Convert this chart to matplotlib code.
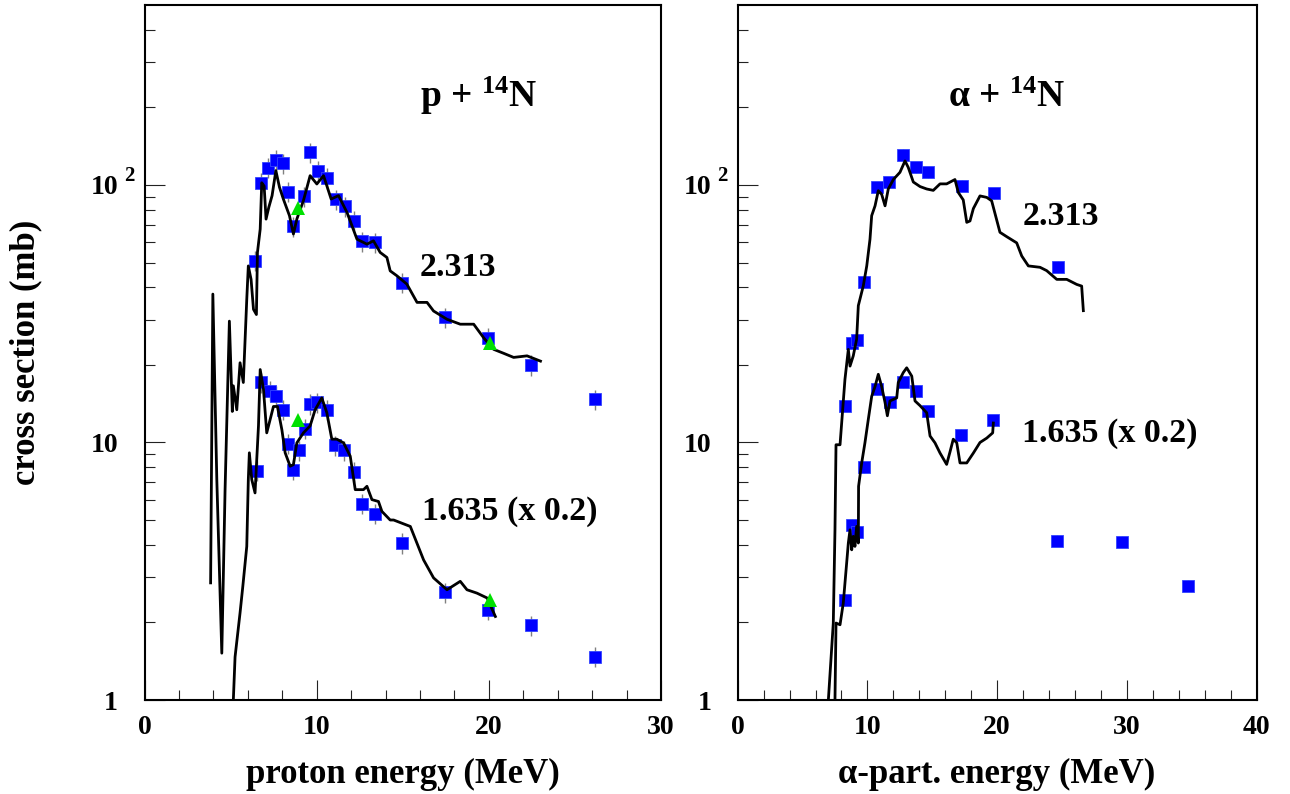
import numpy as np
import matplotlib
matplotlib.use("Agg")
import matplotlib.pyplot as plt
from matplotlib.ticker import FixedLocator, MultipleLocator, NullFormatter

plt.rcParams['font.family'] = ['Liberation Serif', 'DejaVu Serif']
plt.rcParams['font.weight'] = 'bold'
plt.rcParams['mathtext.fontset'] = 'custom'
plt.rcParams['mathtext.rm'] = 'Liberation Serif:bold'
plt.rcParams['mathtext.bf'] = 'Liberation Serif:bold'
plt.rcParams['mathtext.it'] = 'Liberation Serif:italic:bold'

# ---------------- p + 14N ----------------
p_2313_E = [6.42, 6.77, 7.16, 7.63, 8.03, 8.34, 8.65, 9.27, 9.64, 10.05, 10.61, 11.15,
            11.64, 12.14, 12.63, 13.36, 14.94, 17.43, 19.93, 22.45, 26.15]
p_2313_S = [50.8, 102, 116.5, 125, 121.5, 94.2, 69.1, 90.3, 134, 113.7, 106.4, 88,
            82.6, 72.6, 60.4, 59.8, 41.8, 30.6, 25.5, 20.0, 14.7]
p_1635_E = [6.52, 6.77, 7.30, 7.65, 8.07, 8.36, 8.65, 9.00, 9.33, 9.62, 10.01, 10.59,
            11.09, 11.60, 12.14, 12.63, 13.36, 14.95, 17.43, 19.93, 22.45, 26.15]
p_1635_S = [7.78, 17.1, 15.9, 15.2, 13.4, 9.89, 7.85, 9.31, 11.3, 14.1, 14.3, 13.4,
            9.76, 9.31, 7.69, 5.79, 5.28, 4.07, 2.62, 2.24, 1.95, 1.47]
p_err_rel = 0.09
p_green_E = [8.92, 20.06, 8.91, 20.09]
p_green_S = [81.4, 24.4, 12.2, 2.45]

p_curve_2313_E = [3.84, 3.97, 4.20, 4.49, 4.68, 4.93, 5.10, 5.16, 5.36, 5.55, 5.74, 5.94,
                  6.03, 6.19, 6.33, 6.50, 6.56, 6.72, 6.81, 6.95, 7.06, 7.22, 7.41, 7.63,
                  7.84, 8.07, 8.42, 8.65, 8.85, 9.23, 9.62, 10.01, 10.40, 10.84, 11.27,
                  11.76, 12.34, 12.92, 13.30, 13.69, 14.08, 14.27, 14.66, 15.24, 15.83,
                  16.41, 16.79, 17.57, 18.34, 19.12, 19.70, 20.28, 20.86, 21.44, 22.22, 23.0]
p_curve_2313_S = [2.85, 37.7, 7.18, 1.52, 6.56, 29.6, 13.2, 16.6, 13.4, 20.4, 17.1, 36,
                  48.5, 43, 32.9, 31.4, 54.7, 67.4, 102, 99, 73.7, 81.9, 90.9, 113.7,
                  98, 88, 76, 64.5, 73.8, 86.9, 108.7, 100.9, 108.7, 88.2, 90.9,
                  78.3, 61.6, 58.9, 60.7, 54.7, 52.3, 46.4, 44.4, 41.2, 35,
                  35, 32.4, 30.1, 28.8, 28.8, 25.5, 23.0, 22.2, 21.4, 21.7, 20.7]
p_curve_1635_E = [5.16, 5.26, 5.55, 5.71, 5.94, 6.03, 6.09, 6.23, 6.42, 6.62, 6.72, 6.91,
                  7.10, 7.30, 7.49, 7.72, 7.98, 8.17, 8.46, 8.65, 8.85, 9.23, 9.62, 9.91,
                  10.30, 10.59, 10.88, 11.17, 11.56, 11.95, 12.24, 12.72, 12.92, 13.21,
                  13.59, 13.79, 14.27, 14.47, 15.44, 16.21, 16.79, 17.57, 18.34, 18.73,
                  19.31, 19.90, 20.38]
p_curve_1635_S = [1.0, 1.47, 2.18, 2.76, 3.95, 7.18, 9.12, 7.18, 6.37, 11.6, 19.2, 16.1,
                  10.9, 12.3, 13.8, 13.8, 11.2, 9.12, 8.09, 8.2, 9.97, 10.9, 11.6, 13.4,
                  14.9, 13.05, 10.3, 10.3, 9.97, 8.85, 6.56, 6.56, 6.76, 6.0,
                  5.9, 5.4, 5.0, 5.0, 4.72, 3.5, 2.98, 2.68, 2.89, 2.68,
                  2.6, 2.49, 2.11]

# ---------------- alpha + 14N ----------------
a_2313_E = [8.27, 8.79, 9.22, 9.76, 10.76, 11.69, 12.77, 13.75, 14.70, 17.27, 19.76, 24.67]
a_2313_S = [13.9, 24.4, 25.0, 42.1, 98, 102.6, 131, 117, 112, 99.4, 93, 48.1]
a_1635_E = [8.27, 8.79, 9.22, 9.76, 10.76, 11.76, 12.77, 13.75, 14.70, 17.22, 19.71,
            24.62, 29.63, 34.72]
a_1635_S = [2.45, 4.8, 4.48, 8.01, 16.1, 14.4, 17.1, 15.8, 13.2, 10.7, 12.2,
            4.16, 4.12, 2.78]
a_err_rel = 0.05

a_curve_2313_E = [6.99, 7.37, 7.50, 7.58, 7.89, 8.27, 8.53, 8.66, 8.91, 9.17, 9.30, 9.68,
                  9.95, 10.20, 10.33, 10.59, 10.84, 11.10, 11.36, 11.61, 12.00, 12.51,
                  12.90, 13.15, 13.54, 14.06, 14.57, 15.08, 15.60, 16.11, 16.75, 17.01,
                  17.39, 17.66, 17.91, 18.17, 18.68, 19.20, 19.58, 20.22, 20.74, 21.51,
                  21.90, 22.41, 23.31, 23.82, 24.60, 25.37, 26.14, 26.52, 26.65]
a_curve_2313_S = [1.0, 1.99, 4.58, 9.8, 9.8, 17.6, 23, 19.8, 21.7, 25.2, 34, 40.5,
                  48.5, 61.6, 76, 83, 95, 92, 83, 96.5, 105, 112,
                  124, 117, 102.7, 98.6, 96.5, 95.3, 101, 101, 105, 93.5,
                  87.5, 71.6, 72.5, 81, 90.7, 89.5, 86.8, 65.5, 63, 59.6,
                  53, 48.5, 47.9, 46.5, 43, 43, 41.1, 40.5, 32.5]
a_curve_1635_E = [7.50, 7.58, 7.89, 8.14, 8.40, 8.53, 8.66, 8.79, 8.91, 9.04, 9.17, 9.30,
                  9.32, 9.56, 9.81, 10.07, 10.33, 10.59, 10.84, 11.10, 11.36, 11.54,
                  11.74, 12.26, 12.38, 12.77, 13.03, 13.42, 13.67, 14.06, 14.57, 14.83,
                  15.21, 15.60, 16.11, 16.37, 16.62, 16.89, 17.14, 17.66, 18.17, 18.68,
                  19.20, 19.66, 19.71]
a_curve_1635_S = [1.0, 1.99, 1.96, 2.38, 3.4, 4.07, 4.58, 3.83, 4.32, 3.95, 4.72, 4.07,
                  6.76, 8.33, 9.97, 12.3, 15.1, 16.5, 18.4, 16.5, 14.3, 12.7,
                  14.5, 14.9, 17.1, 18.7, 19.5, 18.1, 14.5, 13.9, 13.05, 10.6,
                  9.97, 9.1, 8.22, 9.2, 10.3, 9.97, 8.33, 8.33, 9.1, 10.0,
                  10.4, 10.9, 11.9]

BLUE = '#0000ff'
GREEN = '#00e000'
FS_TICK = 20
FS_LAB = 25
FS_ANN = 24.5
FS_TITLE = 27

fig = plt.figure(figsize=(12.9, 7.94), dpi=100)
W, H = 1290.0, 794.0
axL = fig.add_axes([144.5 / W, 94 / H, (661 - 144.5) / W, 695 / H])
axR = fig.add_axes([737.7 / W, 94 / H, (1256.5 - 737.7) / W, 695 / H])


def squares(ax, E, S, rel):
    S = np.asarray(S)
    ax.errorbar(E, S, yerr=S * rel, fmt='none', ecolor='#808080', elinewidth=1.0,
                capsize=0, zorder=2)
    ax.plot(E, S, 's', color=BLUE, markersize=9.2, markeredgewidth=0.6,
            markeredgecolor='#3344ff', zorder=3)


def style(ax, xmax, xlabel):
    ax.set_yscale('log')
    ax.set_ylim(1, 500)
    ax.set_xlim(0, xmax)
    for s in ax.spines.values():
        s.set_linewidth(1.5)
        s.set_color('black')
    ax.xaxis.set_major_locator(MultipleLocator(10))
    ax.xaxis.set_minor_locator(MultipleLocator(2))
    ax.yaxis.set_major_locator(FixedLocator([1, 10, 100]))
    ax.yaxis.set_minor_locator(FixedLocator([m * d for d in (1, 10, 100) for m in range(2, 10)
                                             if m * d < 500]))
    ax.yaxis.set_minor_formatter(NullFormatter())
    ax.set_yticklabels(['1', '10', '10'])
    ax.tick_params(axis='both', which='major', direction='in', length=14.4, width=0.8,
                   color='#222222', labelsize=FS_TICK, top=False, right=False)
    ax.tick_params(axis='both', which='minor', direction='in', length=7.2, width=0.8,
                   color='#222222', top=False, right=False)
    ax.tick_params(axis='x', which='major', pad=11)
    ax.tick_params(axis='y', which='major', pad=19)
    for lab in ax.get_xticklabels() + ax.get_yticklabels():
        lab.set_fontweight('bold')
    # superscript of the 10^2 label
    ax.annotate('2', xy=(0, 100), xycoords=('axes fraction', 'data'),
                xytext=(-20.5, 4), textcoords='offset pixels', ha='left', va='baseline',
                fontsize=15, fontweight='bold', annotation_clip=False)
    ax.set_xlabel(xlabel, fontsize=FS_LAB, fontweight='bold')
    ax.xaxis.set_label_coords(0.5, -0.083)


# left panel
style(axL, 30, 'proton energy (MeV)')
axL.plot(p_curve_2313_E, p_curve_2313_S, color='black', lw=2.0, zorder=4)
axL.plot(p_curve_1635_E, p_curve_1635_S, color='black', lw=2.0, zorder=4)
squares(axL, p_2313_E, p_2313_S, p_err_rel)
squares(axL, p_1635_E, p_1635_S, p_err_rel)
axL.plot(p_green_E, p_green_S, '^', color=GREEN, markersize=9.5, markeredgewidth=0,
         zorder=5)
axL.set_ylabel('cross section (mb)', fontsize=FS_LAB, fontweight='bold')
axL.yaxis.set_label_coords(-0.197, 0.5)
axL.text(16.0, 201, 'p + $^{\\mathbf{14}}$N', fontsize=FS_TITLE, fontweight='bold',
         ha='left', va='baseline')
axL.text(16.0, 44.2, '2.313', fontsize=FS_ANN, fontweight='bold', ha='left', va='baseline')
axL.text(16.1, 5.0, '1.635 (x 0.2)', fontsize=FS_ANN, fontweight='bold', ha='left',
         va='baseline')

# right panel
style(axR, 40, 'α-part. energy (MeV)')
axR.plot(a_curve_2313_E, a_curve_2313_S, color='black', lw=2.0, zorder=4)
axR.plot(a_curve_1635_E, a_curve_1635_S, color='black', lw=2.0, zorder=4)
squares(axR, a_2313_E, a_2313_S, a_err_rel)
squares(axR, a_1635_E, a_1635_S, a_err_rel)
axR.text(16.2, 201, 'α + $^{\\mathbf{14}}$N', fontsize=FS_TITLE, fontweight='bold',
         ha='left', va='baseline')
axR.text(21.95, 69.9, '2.313', fontsize=FS_ANN, fontweight='bold', ha='left',
         va='baseline')
axR.text(21.95, 10.1, '1.635 (x 0.2)', fontsize=FS_ANN, fontweight='bold', ha='left',
         va='baseline')

fig.savefig('out.png', dpi=100)
